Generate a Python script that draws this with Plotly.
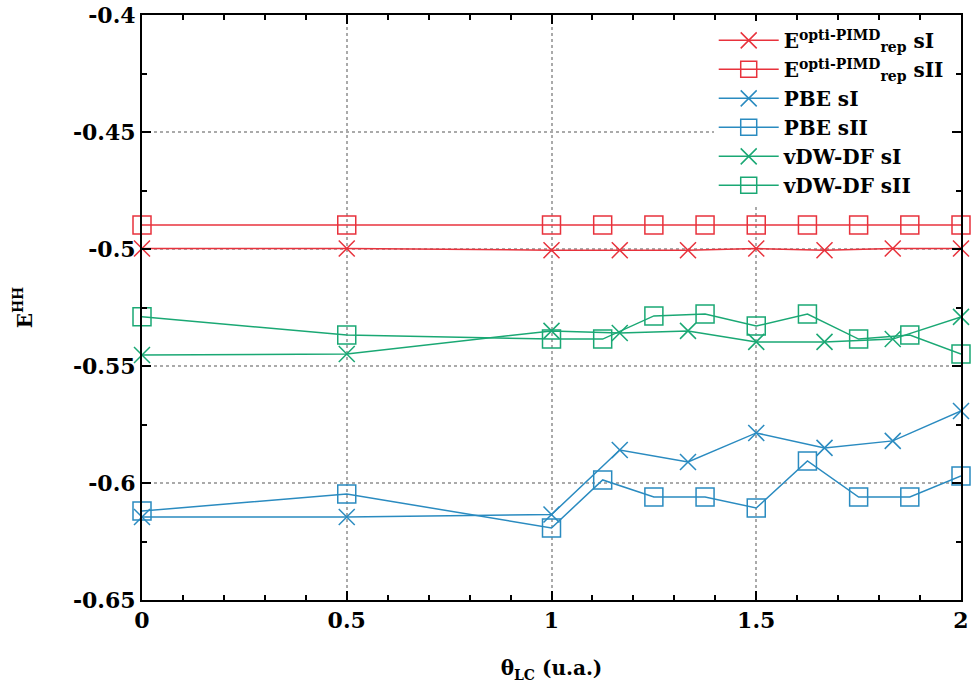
import plotly.graph_objects as go

x_cross = [0, 0.5, 1, 1.1667, 1.3333, 1.5, 1.6667, 1.8333, 2]
x_square = [0, 0.5, 1, 1.125, 1.25, 1.375, 1.5, 1.625, 1.75, 1.875, 2]

opti_sI = [-0.4998, -0.4998, -0.5005, -0.5005, -0.5005, -0.4998, -0.5005, -0.4998, -0.4998]
opti_sII = [-0.4897] * 11
pbe_sI = [-0.6145, -0.6145, -0.6135, -0.5859, -0.5910, -0.5786, -0.5850, -0.5820, -0.5692]
pbe_sII = [-0.6120, -0.6047, -0.6192, -0.5987, -0.6060, -0.6060, -0.6107, -0.5906, -0.6060, -0.6060, -0.5970]
vdw_sI = [-0.5453, -0.5449, -0.5350, -0.5359, -0.5350, -0.5397, -0.5397, -0.5385, -0.5290]
vdw_sII = [-0.5290, -0.5368, -0.5385, -0.5385, -0.5286, -0.5278, -0.5329, -0.5278, -0.5385, -0.5368, -0.5449]

names = [
    "E<sup>opti-PIMD</sup><sub>rep</sub> sI",
    "E<sup>opti-PIMD</sup><sub>rep</sub> sII",
    "PBE sI",
    "PBE sII",
    "vDW-DF sI",
    "vDW-DF sII",
]

RED = "#e8323c"
BLUE = "#2a8bc0"
GREEN = "#1aa874"

series = [
    (x_cross, opti_sI, RED, "x-thin-open", 16),
    (x_square, opti_sII, RED, "square-open", 18),
    (x_cross, pbe_sI, BLUE, "x-thin-open", 16),
    (x_square, pbe_sII, BLUE, "square-open", 18),
    (x_cross, vdw_sI, GREEN, "x-thin-open", 16),
    (x_square, vdw_sII, GREEN, "square-open", 18),
]

fig = go.Figure()
for (xs, ys, col, sym, sz), nm in zip(series, names):
    fig.add_trace(go.Scatter(
        x=xs, y=ys, name=nm, mode="lines+markers",
        line=dict(color=col, width=1.5),
        marker=dict(symbol=sym, size=sz, color=col, line=dict(color=col, width=1.5)),
        cliponaxis=False,
    ))

axis_common = dict(
    showline=True, linecolor="black", linewidth=2, mirror="allticks",
    ticks="inside", ticklen=9, tickwidth=2, tickcolor="black",
    showgrid=True, gridcolor="#aaaaaa", gridwidth=1.5, griddash="dot",
    zeroline=False, automargin=False, ticklabeloverflow="allow",
    tickfont=dict(family="DejaVu Serif", size=22, color="black", weight="bold"),
)

fig.update_xaxes(
    range=[0, 2], tickvals=[0, 0.5, 1, 1.5, 2], ticktext=["0", "0.5", "1", "1.5", "2"],
    minor=dict(ticks="inside", dtick=0.1, ticklen=5, tickwidth=1.5, tickcolor="black", showgrid=False),
    title=dict(text="θ<sub>LC</sub> (u.a.)", font=dict(family="DejaVu Serif", size=20, color="black", weight="bold"), standoff=29),
    **axis_common,
)
fig.update_yaxes(
    range=[-0.65, -0.4], tickvals=[-0.65, -0.6, -0.55, -0.5, -0.45, -0.4],
    ticktext=["-0.65", "-0.6", "-0.55", "-0.5", "-0.45", "-0.4"],
    minor=dict(ticks="inside", dtick=0.025, ticklen=5, tickwidth=1.5, tickcolor="black", showgrid=False),
    title=dict(text="E<sup>HH</sup>", font=dict(family="DejaVu Serif", size=20, color="black", weight="bold"), standoff=35),
    **axis_common,
)

fig.update_layout(
    width=971, height=686,
    margin=dict(l=142, r=10, t=15, b=86),
    plot_bgcolor="white", paper_bgcolor="white",
    showlegend=True,
    legend=dict(
        x=0.985, y=0.99, xanchor="right", yanchor="top",
        bgcolor="white", borderwidth=0,
        font=dict(family="DejaVu Serif", size=20, color="black", weight="bold"),
        tracegroupgap=0, itemwidth=60,
    ),
)

fig.write_html("out.html", config={"displayModeBar": False},
               post_script="document.body.style.margin='0';")
